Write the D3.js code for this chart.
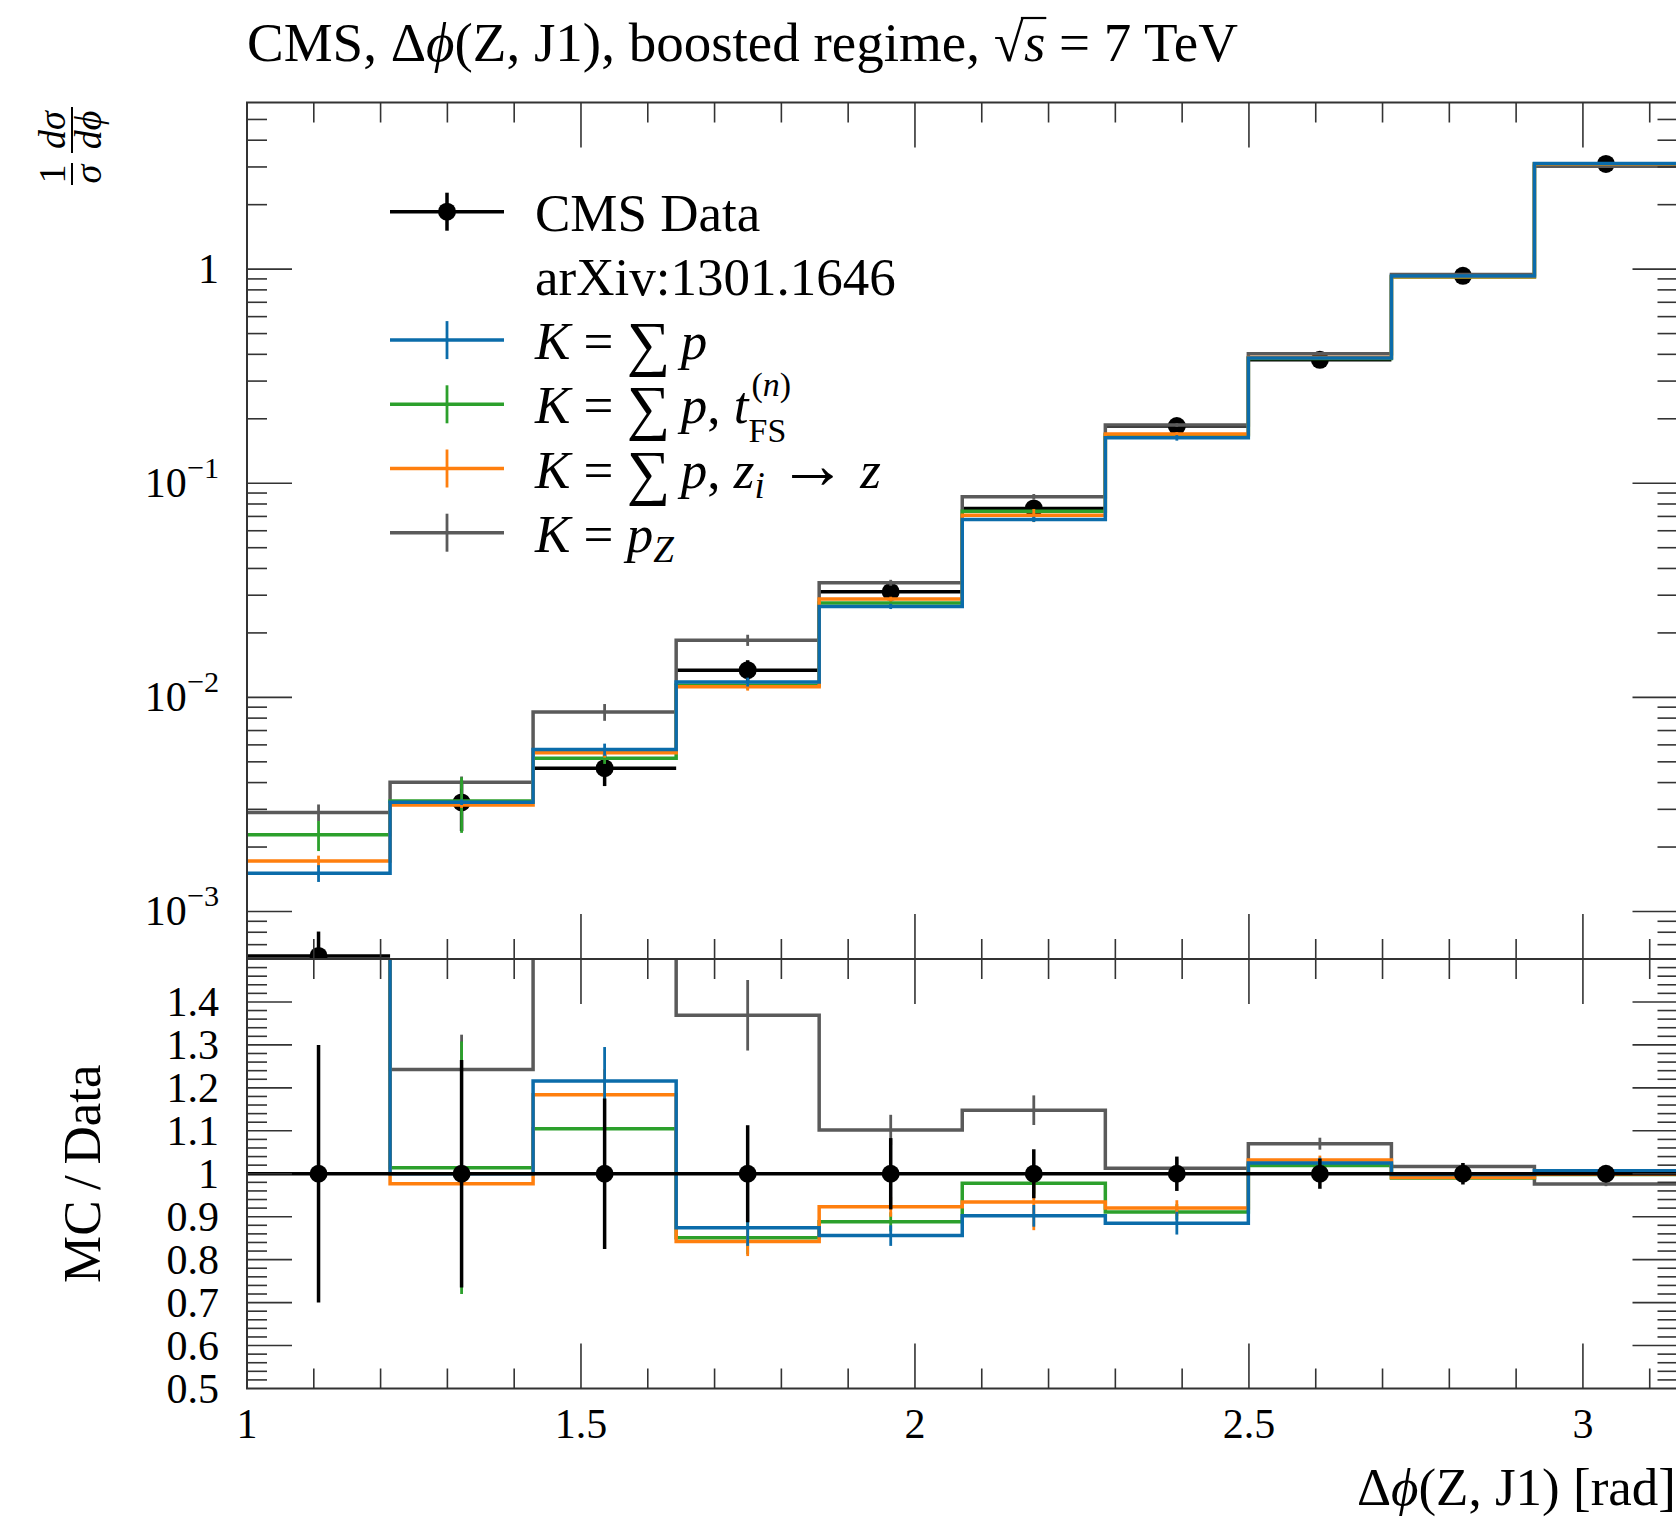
<!DOCTYPE html>
<html>
<head>
<meta charset="utf-8">
<script src="https://cdn.jsdelivr.net/npm/d3@7"></script>
<style>
  body { margin: 0; background: #fff; }
  #svg text { font-family: "Liberation Serif", "DejaVu Serif", serif; fill: #000; }
</style>
</head>
<body>
<svg id="svg"></svg>
<script>
// Bin edges of the delta-phi(Z,J1) histogram, 10 bins from 1 to pi
const binEdges = [1.0, 1.2142, 1.4283, 1.6425, 1.8566, 2.0708, 2.2850, 2.4991, 2.7133, 2.9274, 3.1416];

// CMS data (1/sigma dsigma/dphi) and relative uncertainty
const dataValues = [6.2e-4, 3.23e-3, 4.67e-3, 1.34e-2, 3.11e-2, 7.63e-2, 0.185, 0.377, 0.931, 3.10];
const dataRelErr = [0.30, 0.265, 0.175, 0.113, 0.083, 0.057, 0.04, 0.035, 0.025, 0.015];

// MC predictions, main panel
const sumPValues = [1.51e-3, 3.24e-3, 5.71e-3, 1.18e-2, 2.66e-2, 6.78e-2, 0.163, 0.385, 0.929, 3.11];
const sumPtfsValues = [2.28e-3, 3.28e-3, 5.20e-3, 1.14e-2, 2.76e-2, 7.40e-2, 0.168, 0.382, 0.920, 3.10];
const sumPziValues = [1.72e-3, 3.14e-3, 5.51e-3, 1.12e-2, 2.88e-2, 7.08e-2, 0.170, 0.387, 0.922, 3.10];
const pzValues = [2.90e-3, 4.01e-3, 8.54e-3, 1.85e-2, 3.43e-2, 8.65e-2, 0.187, 0.402, 0.945, 3.02];

// MC / data, lower panel
const sumPRatio = [2.44, 1.00, 1.216, 0.874, 0.856, 0.902, 0.885, 1.025, 0.998, 1.007];
const sumPtfsRatio = [3.68, 1.014, 1.105, 0.851, 0.888, 0.978, 0.911, 1.019, 0.990, 0.998];
const sumPziRatio = [2.77, 0.977, 1.184, 0.842, 0.923, 0.934, 0.920, 1.032, 0.991, 0.999];
const pzRatio = [4.68, 1.243, 1.83, 1.369, 1.102, 1.148, 1.013, 1.070, 1.017, 0.976];

// relative MC uncertainties
const sumPErr = [0.09, 0.03, 0.065, 0.048, 0.028, 0.028, 0.03, 0.012, 0.006, 0.004];
const sumPtfsErr = [0.16, 0.29, 0.06, 0.045, 0.025, 0.025, 0.02, 0.01, 0.006, 0.004];
const sumPziErr = [0.06, 0.03, 0.05, 0.04, 0.025, 0.07, 0.02, 0.01, 0.006, 0.004];
const pzErr = [0.09, 0.065, 0.09, 0.06, 0.032, 0.03, 0.02, 0.013, 0.008, 0.005];

// tick labels
const xTickValues = [1, 1.5, 2, 2.5, 3];
const xTickLabels = ["1", "1.5", "2", "2.5", "3"];
const mainTickValues = [1, 0.1, 0.01, 0.001];
const mainTickExp = ["", "\u22121", "\u22122", "\u22123"];
const ratioTickValues = [0.5, 0.6, 0.7, 0.8, 0.9, 1.0, 1.1, 1.2, 1.3, 1.4];
const ratioTickLabels = ["0.5", "0.6", "0.7", "0.8", "0.9", "1", "1.1", "1.2", "1.3", "1.4"];

// series in drawing order (last one on top)
const series = [
    { values: pzValues, ratio: pzRatio, err: pzErr, color: "#5a5a5a" },
    { values: sumPtfsValues, ratio: sumPtfsRatio, err: sumPtfsErr, color: "#2ca02c" },
    { values: sumPziValues, ratio: sumPziRatio, err: sumPziErr, color: "#ff7f0e" },
    { values: sumPValues, ratio: sumPRatio, err: sumPErr, color: "#0b6caa" },
];

const width = 1676;
const height = 1519;
const svg = d3.select("#svg").attr("width", width).attr("height", height);

const pLeft = 247, pRight = 1677.5, pTop = 102.5, pMid = 959, pBottom = 1388.5;
const bigFont = 53, tickFont = 42;

const x = d3.scaleLinear().domain([1, Math.PI]).range([pLeft, pRight]);
const y = d3.scaleLog().domain([6e-4, 6]).range([pMid, pTop]);
const yr = d3.scaleLinear().domain([0.5, 1.5]).range([pBottom, pMid]);

const centers = binEdges.slice(0, -1).map((e, i) => (e + binEdges[i + 1]) / 2);

// clip paths for the two panels
const defs = svg.append("defs");
defs.append("clipPath").attr("id", "clipMain").append("rect")
    .attr("x", pLeft).attr("y", pTop).attr("width", pRight - pLeft).attr("height", pMid - pTop);
defs.append("clipPath").attr("id", "clipRatio").append("rect")
    .attr("x", pLeft).attr("y", pMid).attr("width", pRight - pLeft).attr("height", pBottom - pMid);

function stepPath(vals, scale) {
    const pts = binEdges.map((e, i) => [x(e), scale(vals[Math.min(i, vals.length - 1)])]);
    return d3.line().curve(d3.curveStepAfter)(pts);
}

// ---------- main panel ----------
const main = svg.append("g").attr("clip-path", "url(#clipMain)");

// data first, MC on top
main.selectAll(".dbar").data(dataValues).enter().append("line")
    .attr("x1", (d, i) => x(binEdges[i])).attr("x2", (d, i) => x(binEdges[i + 1]))
    .attr("y1", d => y(d)).attr("y2", d => y(d))
    .attr("stroke", "#000").attr("stroke-width", 3.5);
main.selectAll(".derr").data(dataValues).enter().append("line")
    .attr("x1", (d, i) => x(centers[i])).attr("x2", (d, i) => x(centers[i]))
    .attr("y1", (d, i) => y(d * (1 + dataRelErr[i]))).attr("y2", (d, i) => y(d * (1 - dataRelErr[i])))
    .attr("stroke", "#000").attr("stroke-width", 3.5);
main.selectAll(".dot").data(dataValues).enter().append("circle")
    .attr("cx", (d, i) => x(centers[i])).attr("cy", d => y(d)).attr("r", 9).attr("fill", "#000");

series.forEach(s => {
    main.append("path").attr("d", stepPath(s.values, y))
        .attr("fill", "none").attr("stroke", s.color).attr("stroke-width", 3.5);
    main.selectAll(null).data(s.values).enter().append("line")
        .attr("x1", (d, i) => x(centers[i])).attr("x2", (d, i) => x(centers[i]))
        .attr("y1", (d, i) => y(d * (1 + s.err[i]))).attr("y2", (d, i) => y(d * (1 - s.err[i])))
        .attr("stroke", s.color).attr("stroke-width", 2.8);
});

// ---------- ratio panel ----------
const ratio = svg.append("g").attr("clip-path", "url(#clipRatio)");

series.forEach(s => {
    ratio.append("path").attr("d", stepPath(s.ratio, yr))
        .attr("fill", "none").attr("stroke", s.color).attr("stroke-width", 3.5);
    ratio.selectAll(null).data(s.ratio).enter().append("line")
        .attr("x1", (d, i) => x(centers[i])).attr("x2", (d, i) => x(centers[i]))
        .attr("y1", (d, i) => yr(d * (1 + s.err[i]))).attr("y2", (d, i) => yr(d * (1 - s.err[i])))
        .attr("stroke", s.color).attr("stroke-width", 2.8);
});

ratio.append("line")
    .attr("x1", x(binEdges[0])).attr("x2", x(binEdges[binEdges.length - 1]))
    .attr("y1", yr(1)).attr("y2", yr(1))
    .attr("stroke", "#000").attr("stroke-width", 3.5);
ratio.selectAll(".rerr").data(dataRelErr).enter().append("line")
    .attr("x1", (d, i) => x(centers[i])).attr("x2", (d, i) => x(centers[i]))
    .attr("y1", d => yr(1 + d)).attr("y2", d => yr(1 - d))
    .attr("stroke", "#000").attr("stroke-width", 3.5);
ratio.selectAll(".rdot").data(centers).enter().append("circle")
    .attr("cx", d => x(d)).attr("cy", yr(1)).attr("r", 9).attr("fill", "#000");

// ---------- ticks ----------
function ticks(axis, pos, values, size) {
    const g = svg.append("g").attr("transform", pos)
        .call(axis.tickValues(values).tickSize(size).tickFormat("").offset(0));
    g.select(".domain").remove();
    g.selectAll("line").attr("stroke", "#333").attr("stroke-width", 1.6);
}

const xMinor = d3.range(11, 32).filter(v => v % 5 !== 0).map(v => v / 10);
const logMinor = [];
[-4, -3, -2, -1, 0].forEach(k => d3.range(2, 10).forEach(m => {
    const v = m * Math.pow(10, k);
    if (v > 6e-4 && v < 6) logMinor.push(v);
}));
const ratioMinor = d3.range(26, 75).filter(v => v % 5 !== 0).map(v => v / 50);

[[d3.axisTop, pTop], [d3.axisBottom, pMid], [d3.axisTop, pMid], [d3.axisBottom, pBottom]].forEach(([ax, yy]) => {
    ticks(ax(x), `translate(0,${yy})`, xMinor, -20);
    ticks(ax(x), `translate(0,${yy})`, xTickValues.slice(1), -45);
});
ticks(d3.axisLeft(y), `translate(${pLeft},0)`, logMinor, -20);
ticks(d3.axisLeft(y), `translate(${pLeft},0)`, mainTickValues, -45);
ticks(d3.axisRight(y), `translate(${pRight},0)`, logMinor, -20);
ticks(d3.axisRight(y), `translate(${pRight},0)`, mainTickValues, -45);
ticks(d3.axisLeft(yr), `translate(${pLeft},0)`, ratioMinor, -20);
ticks(d3.axisLeft(yr), `translate(${pLeft},0)`, ratioTickValues.slice(1), -45);
ticks(d3.axisRight(yr), `translate(${pRight},0)`, ratioMinor, -20);
ticks(d3.axisRight(yr), `translate(${pRight},0)`, ratioTickValues.slice(1), -45);

// frames
[[pTop, pMid], [pMid, pBottom]].forEach(([a, b]) => {
    svg.append("rect").attr("x", pLeft).attr("y", a).attr("width", pRight - pLeft).attr("height", b - a)
        .attr("fill", "none").attr("stroke", "#333").attr("stroke-width", 2);
});

// ---------- tick labels ----------
svg.selectAll(".xlab").data(xTickValues).enter().append("text")
    .attr("x", d => x(d)).attr("y", 1438).attr("text-anchor", "middle")
    .style("font-size", tickFont + "px").text((d, i) => xTickLabels[i]);

mainTickValues.forEach((v, i) => {
    const t = svg.append("text").attr("x", 219).attr("y", y(v) + 14).attr("text-anchor", "end")
        .style("font-size", tickFont + "px");
    t.append("tspan").text(v === 1 ? "1" : "10");
    if (mainTickExp[i]) {
        t.append("tspan").attr("dy", -19).style("font-size", (tickFont * 0.72) + "px").text(mainTickExp[i]);
    }
});

svg.selectAll(".rlab").data(ratioTickValues).enter().append("text")
    .attr("x", 219).attr("y", d => yr(d) + 14).attr("text-anchor", "end")
    .style("font-size", tickFont + "px").text((d, i) => ratioTickLabels[i]);

// ---------- rich text helper ----------
function rich(sel, parts, fs) {
    let cur = 0;
    let prev = null;
    parts.forEach(p => {
        const off = p.off || 0;
        const ts = sel.append("tspan").text(p.t)
            .attr("dy", off - cur)
            .style("font-size", (fs * (p.s || 1)) + "px")
            .style("font-style", p.it ? "italic" : "normal");
        if (p.back && prev) ts.attr("dx", -prev.getComputedTextLength() + (p.nudge || 0));
        cur = off;
        prev = ts.node();
    });
    return sel;
}

// title
const title = svg.append("text").attr("x", 247).attr("y", 61);
rich(title, [
    { t: "CMS, \u0394" }, { t: "\u03d5", it: true }, { t: "(Z, J1), boosted regime, " },
    { t: "\u221a" }, { t: "s", it: true }, { t: " = 7 TeV" }
], 55);
{
    const node = title.node();
    const full = node.textContent;
    const iRoot = full.indexOf("\u221a");
    const r = node.getExtentOfChar(iRoot);
    const sExt = node.getExtentOfChar(iRoot + 1);
    svg.append("line")
        .attr("x1", r.x + r.width - 3).attr("x2", sExt.x + sExt.width + 1)
        .attr("y1", r.y + 6).attr("y2", r.y + 6)
        .attr("stroke", "#000").attr("stroke-width", 2.2);
}

// x axis label
const xl = svg.append("text").attr("x", 1676).attr("y", 1505).attr("text-anchor", "end");
rich(xl, [{ t: "\u0394" }, { t: "\u03d5", it: true }, { t: "(Z, J1) [rad]" }], bigFont);

// ratio y label
svg.append("text")
    .attr("transform", `translate(100,${(pMid + pBottom) / 2}) rotate(-90)`)
    .attr("text-anchor", "middle").style("font-size", bigFont + "px")
    .text("MC\u2009/\u2009Data");

// main y label: 1/sigma dsigma/dphi, rotated
{
    const g = svg.append("g").attr("transform", "translate(72,146) rotate(-90)");
    const fs = 38;
    const frac = (cx, num, den, w) => {
        const n = g.append("text").attr("x", cx).attr("y", -7).attr("text-anchor", "middle");
        rich(n, num, fs);
        const d = g.append("text").attr("x", cx).attr("y", 29).attr("text-anchor", "middle");
        rich(d, den, fs);
        g.append("line").attr("x1", cx - w / 2).attr("x2", cx + w / 2).attr("y1", 0).attr("y2", 0)
            .attr("stroke", "#000").attr("stroke-width", 2);
    };
    frac(-28, [{ t: "1" }], [{ t: "\u03c3", it: true }], 22);
    frac(16, [{ t: "d\u03c3", it: true }], [{ t: "d\u03d5", it: true }], 46);
}

// ---------- legend ----------
const legendX0 = 390, legendX1 = 504, legendTextX = 535;
const rowY = k => 211.7 + k * 64.2;

function legendSample(k, color, withDot) {
    const yy = rowY(k);
    const cx = (legendX0 + legendX1) / 2;
    svg.append("line").attr("x1", legendX0).attr("x2", legendX1).attr("y1", yy).attr("y2", yy)
        .attr("stroke", color).attr("stroke-width", 3.5);
    svg.append("line").attr("x1", cx).attr("x2", cx).attr("y1", yy - 19).attr("y2", yy + 19)
        .attr("stroke", color).attr("stroke-width", withDot ? 3.5 : 2.8);
    if (withDot) svg.append("circle").attr("cx", cx).attr("cy", yy).attr("r", 9).attr("fill", color);
}
function legendText(k, parts) {
    const t = svg.append("text").attr("x", legendTextX).attr("y", rowY(k) + 19);
    rich(t, parts, bigFont);
    return t;
}

const sumParts = [{ t: "K", it: true }, { t: " = " }, { t: "\u2211", s: 1.15, off: 5 }, { t: "\u2009" }, { t: "p", it: true }];

legendSample(0, "#000", true);
legendText(0, [{ t: "CMS Data" }]);
legendText(1, [{ t: "arXiv:1301.1646" }]);

legendSample(2, "#0b6caa", false);
legendText(2, sumParts);

// green entry: subscript FS with superscript (n) stacked above it
legendSample(3, "#2ca02c", false);
legendText(3, sumParts.concat([
    { t: ", " }, { t: "t", it: true },
    { t: "FS", s: 0.64, off: 19 },
    { t: "(", s: 0.64, off: -27, back: true, nudge: 3 }, { t: "n", it: true, s: 0.64, off: -27 }, { t: ")", s: 0.64, off: -27 }
]));

legendSample(4, "#ff7f0e", false);
legendText(4, sumParts.concat([
    { t: ", " }, { t: "z", it: true }, { t: "i", it: true, s: 0.7, off: 10 },
    { t: " " }, { t: "\u2192", s: 1.3 }, { t: " " }, { t: "z", it: true }
]));

legendSample(5, "#5a5a5a", false);
legendText(5, [{ t: "K", it: true }, { t: " = " }, { t: "p", it: true }, { t: "Z", it: true, s: 0.7, off: 10 }]);
</script>
</body>
</html>
